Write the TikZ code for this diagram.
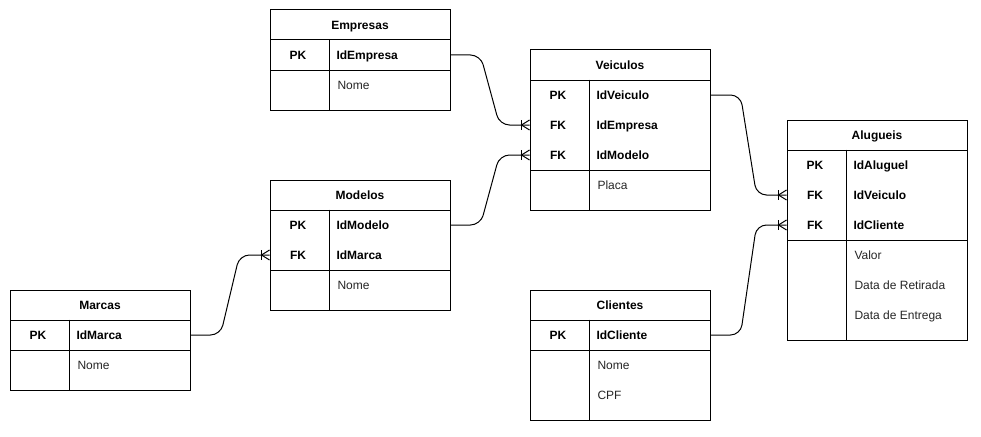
\documentclass[tikz,border=0pt]{standalone}
\usepackage{fontspec}
\setmainfont{Liberation Sans}
\usepackage{tikz}
\begin{document}
\fontsize{12}{14}\selectfont
\begin{tikzpicture}[x=1pt, y=-1pt, line width=1pt]
		\tikzstyle{head}=[draw, minimum width=180pt, minimum height=30pt, text height=10.4pt, text depth=0.8pt, font=\bfseries];
		\tikzstyle{block}=[draw, minimum width=180pt];
		\tikzstyle{row}=[minimum width=180pt, minimum height=30pt, inner sep=0pt];
		\tikzstyle{txt}=[inner sep=0pt, text height=10.4pt, text depth=0.8pt];
		\tikzstyle{key}=[txt, font=\bfseries];
		\tikzstyle{field}=[txt, anchor=west, font=\bfseries];
		\tikzstyle{attr}=[txt, anchor=west, text=black!85];
		\tikzstyle{rel}=[rounded corners=10pt];
		\tikzset{crowfoot/.pic={\draw (-8,-5) -- (-8,5); \draw (0,-5) -- (-8,0) -- (0,5);}}
		\useasboundingbox (0,0) rectangle (981,436);
		% Empresas
		\node [head] (emp) at (360,25) {Empresas};
		\node [block, minimum height=30pt] (empKeys) at (360,55) {};
		\node [block, minimum height=40pt] (empAttrs) at (360,90) {};
		\node [row] (empIdEmpresa) at (360,55) {};
		\node [key] (empPK) at (298,55) {PK};
		\node [field] (empF1) at (336,55) {IdEmpresa};
		\node [attr] (empA1) at (337,85) {Nome};
		\draw ([xshift=60pt]empKeys.north west) -- ([xshift=60pt]empAttrs.south west);
		% Veiculos
		\node [head] (vei) at (620,65) {Veiculos};
		\node [block, minimum height=90pt] (veiKeys) at (620,125) {};
		\node [block, minimum height=40pt] (veiAttrs) at (620,190) {};
		\node [row] (veiIdVeiculo) at (620,95) {};
		\node [row] (veiIdEmpresa) at (620,125) {};
		\node [row] (veiIdModelo) at (620,155) {};
		\node [key] (veiPK) at (558,95) {PK};
		\node [key] (veiFK1) at (558,125) {FK};
		\node [key] (veiFK2) at (558,155) {FK};
		\node [field] (veiF1) at (596,95) {IdVeiculo};
		\node [field] (veiF2) at (596,125) {IdEmpresa};
		\node [field] (veiF3) at (596,155) {IdModelo};
		\node [attr] (veiA1) at (597,185) {Placa};
		\draw ([xshift=60pt]veiKeys.north west) -- ([xshift=60pt]veiAttrs.south west);
		% Modelos
		\node [head] (mod) at (360,195) {Modelos};
		\node [block, minimum height=60pt] (modKeys) at (360,240) {};
		\node [block, minimum height=40pt] (modAttrs) at (360,290) {};
		\node [row] (modIdModelo) at (360,225) {};
		\node [row] (modIdMarca) at (360,255) {};
		\node [key] (modPK) at (298,225) {PK};
		\node [key] (modFK) at (298,255) {FK};
		\node [field] (modF1) at (336,225) {IdModelo};
		\node [field] (modF2) at (336,255) {IdMarca};
		\node [attr] (modA1) at (337,285) {Nome};
		\draw ([xshift=60pt]modKeys.north west) -- ([xshift=60pt]modAttrs.south west);
		% Marcas
		\node [head] (mar) at (100,305) {Marcas};
		\node [block, minimum height=30pt] (marKeys) at (100,335) {};
		\node [block, minimum height=40pt] (marAttrs) at (100,370) {};
		\node [row] (marIdMarca) at (100,335) {};
		\node [key] (marPK) at (38,335) {PK};
		\node [field] (marF1) at (76,335) {IdMarca};
		\node [attr] (marA1) at (77,365) {Nome};
		\draw ([xshift=60pt]marKeys.north west) -- ([xshift=60pt]marAttrs.south west);
		% Clientes
		\node [head] (cli) at (620,305) {Clientes};
		\node [block, minimum height=30pt] (cliKeys) at (620,335) {};
		\node [block, minimum height=70pt] (cliAttrs) at (620,385) {};
		\node [row] (cliIdCliente) at (620,335) {};
		\node [key] (cliPK) at (558,335) {PK};
		\node [field] (cliF1) at (596,335) {IdCliente};
		\node [attr] (cliA1) at (597,365) {Nome};
		\node [attr] (cliA2) at (597,395) {CPF};
		\draw ([xshift=60pt]cliKeys.north west) -- ([xshift=60pt]cliAttrs.south west);
		% Alugueis
		\node [head] (alu) at (877,135) {Alugueis};
		\node [block, minimum height=90pt] (aluKeys) at (877,195) {};
		\node [block, minimum height=100pt] (aluAttrs) at (877,290) {};
		\node [row] (aluIdAluguel) at (877,165) {};
		\node [row] (aluIdVeiculo) at (877,195) {};
		\node [row] (aluIdCliente) at (877,225) {};
		\node [key] (aluPK) at (815,165) {PK};
		\node [key] (aluFK1) at (815,195) {FK};
		\node [key] (aluFK2) at (815,225) {FK};
		\node [field] (aluF1) at (853,165) {IdAluguel};
		\node [field] (aluF2) at (853,195) {IdVeiculo};
		\node [field] (aluF3) at (853,225) {IdCliente};
		\node [attr] (aluA1) at (854,255) {Valor};
		\node [attr] (aluA2) at (854,285) {Data de Retirada};
		\node [attr] (aluA3) at (854,315) {Data de Entrega};
		\draw ([xshift=60pt]aluKeys.north west) -- ([xshift=60pt]aluAttrs.south west);
		% relations
		\draw[rel] (empIdEmpresa.east) -- ++(30,0) -- ([xshift=-30pt]veiIdEmpresa.west) -- (veiIdEmpresa.west);
		\draw[rel] (modIdModelo.east) -- ++(30,0) -- ([xshift=-30pt]veiIdModelo.west) -- (veiIdModelo.west);
		\draw[rel] (marIdMarca.east) -- ++(30,0) -- ([xshift=-30pt]modIdMarca.west) -- (modIdMarca.west);
		\draw[rel] (veiIdVeiculo.east) -- ++(30,0) -- ([xshift=-30pt]aluIdVeiculo.west) -- (aluIdVeiculo.west);
		\draw[rel] (cliIdCliente.east) -- ++(30,0) -- ([xshift=-30pt]aluIdCliente.west) -- (aluIdCliente.west);
		\pic at (veiIdEmpresa.west) {crowfoot};
		\pic at (veiIdModelo.west) {crowfoot};
		\pic at (modIdMarca.west) {crowfoot};
		\pic at (aluIdVeiculo.west) {crowfoot};
		\pic at (aluIdCliente.west) {crowfoot};
	\end{tikzpicture}
\end{document}
